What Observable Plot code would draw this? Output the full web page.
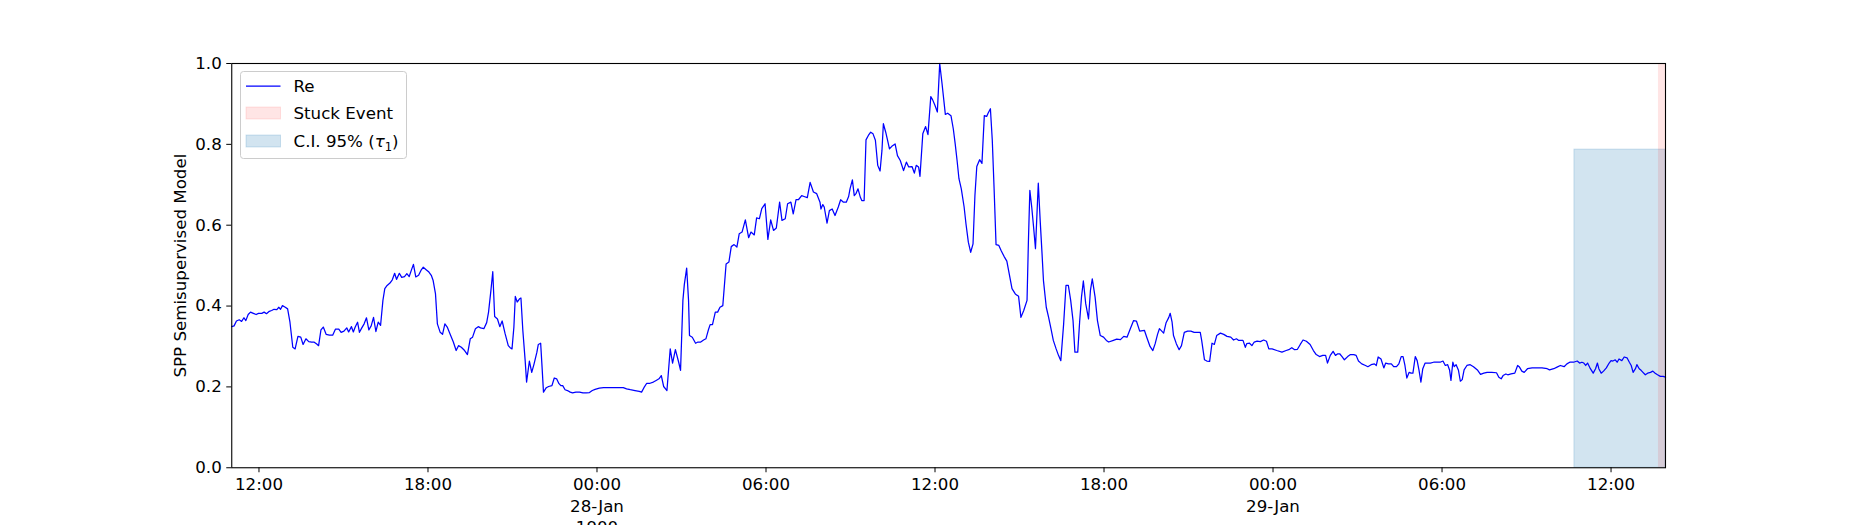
<!DOCTYPE html>
<html><head><meta charset="utf-8">
<script src="https://cdn.jsdelivr.net/npm/d3@7"></script>
<script src="https://cdn.jsdelivr.net/npm/@observablehq/plot@0.6"></script>
<style>
html,body{margin:0;padding:0;background:#fff;overflow:hidden}
</style></head><body><div id="chart"></div>
<script>
// ---- data (minutes since 27-Jan-1900 00:00, model output) ----
const seriesName = "Re";
const yLabel = "SPP Semisupervised Model";
const minutes = [
662,667,672,678,683,688,692,697,702,708,714,719,726,731,736,742,747,752,758,762,766,770,776,781,786,792,797,803,809,814,820,826,832,837,843,847,852,857,863,870,877,883,890,895,901,907,911,917,921,925,930,934,939,944,949,954,959,964,969,974,979,984,988,993,999,1004,1009,1013,1019,1024,1030,1035,1040,1045,1049,1054,1060,1065,1070,1076,1082,1087,1091,1096,1100,1106,1111,1116,1121,1127,1134,1140,1145,1151,1158,1164,1170,1175,1181,1187,1192,1199,1205,1209,1214,1218,1222,1228,1233,1238,1244,1251,1255,
1259,1263,1266,1270,1275,1278,1282,1287,1290,1296,1301,1306,1312,1315,1320,1323,1326,1332,1337,1344,1349,1354,1359,1363,1367,1372,1377,1383,1388,1395,1403,1410,1417,1424,1430,1436,1445,1454,1468,1482,1496,1503,1511,1521,1530,1535,1540,1546,1553,1560,1566,1572,1577,1582,1589,1596,1601,1607,1614,1618,1623,1626,1631,1635,1637,1643,1650,1655,1661,1667,1672,1677,1681,1686,1692,1697,1702,1708,1715,1721,1726,1732,1738,1743,1749,1756,1763,1768,1775,1780,1786,1791,1798,1804,1810,1816,1822,1829,1834,1841,1846,1853,1858,1864,1869,1876,1881,1888,1894,1901,1908,1915,
1917,1921,1924,1930,1935,1941,1947,1954,1959,1965,1971,1976,1979,1984,1988,1992,1996,2001,2004,2009,2013,2018,2023,2028,2033,2038,2043,2047,2050,2055,2059,2063,2068,2075,2080,2086,2093,2099,2104,2111,2116,2120,2125,2128,2134,2140,2145,2151,2155,2160,2165,2170,2175,2182,2187,2194,2199,2203,2207,2211,2216,2222,2226,2231,2236,2241,2245,2249,2255,2260,2265,2270,2273,2278,2282,2286,2290,2296,2301,2307,2313,2318,2324,2331,2338,2343,2349,2356,2359,2362,2366,2370,2374,2380,2384,2388,2391,2397,2402,2407,2412,2418,2423,2428,2434,2439,2444,2449,2454,2458,2464,2468,2472,2476,2481,2487,2491,2495,2501,2506,2512,2519,2525,2530,2540,2547,2555,
2562,2569,2576,2583,2589,2596,2606,2611,2618,2624,2629,2634,2638,2647,2652,2658,2661,2665,2668,2674,2680,2685,2691,2698,2705,2712,2725,2728,2734,2739,2745,2750,2755,2760,2768,2775,2782,2790,2796,2802,2807,2816,2821,2824,2830,2835,2840,2846,2853,2860,2866,2871,2878,2888,2899,2908,2915,2920,2926,2932,2938,2944,2951,2959,2966,2972,2979,2986,2992,2996,3002,3008,3013,3018,3022,3027,3032,3039,3045,3052,3057,3062,3069,3077,3082,3089,3096,3100,3104,3110,3116,3120,3126,3132,3137,3143,3148,3153,3157,3161,3165,3170,3174,3178,3183,3187,3191,3195,3199,3204,3215,
3222,3236,3242,3247,3252,3256,3259,3263,3266,3270,3275,3279,3283,3287,3293,3300,3307,3316,3322,3329,3336,3346,3356,3361,3366,3370,3376,3380,3387,3395,3401,3405,3410,3415,3422,3432,3442,3453,3464,3469,3478,3485,3492,3500,3506,3512,3520,3528,3533,3538,3542,3546,3550,3556,3562,3567,3571,3574,3579,3584,3590,3596,3600,3604,3609,3613,3617,3623,3628,3634,3639,3643,3647,3652,3655,3660,3664,3668,3673,3678,3684,3689,3694,3699,3705,3711,3716
];
const values = [
.349,.351,.363,.366,.362,.371,.364,.379,.385,.382,.379,.382,.382,.385,.381,.387,.389,.392,.391,.397,.392,.401,.397,.393,.360,.298,.294,.325,.323,.305,.319,.312,.311,.311,.306,.302,.341,.348,.330,.328,.328,.343,.343,.335,.338,.346,.336,.349,.336,.348,.360,.335,.346,.356,.371,.341,.351,.372,.337,.360,.352,.414,.443,.451,.457,.465,.481,.466,.481,.471,.473,.480,.473,.490,.503,.472,.476,.488,.496,.490,.484,.476,.463,.430,.356,.335,.330,.356,.348,.331,.311,.290,.302,.298,.290,.280,.319,.323,.344,.349,.346,.344,.359,.385,.438,.485,.374,.368,.349,.363,.333,.302,.297,
.294,.348,.424,.410,.418,.420,.340,.265,.212,.264,.236,.257,.286,.305,.308,.249,.187,.198,.201,.203,.222,.220,.208,.203,.203,.193,.191,.187,.185,.187,.187,.185,.185,.186,.191,.194,.197,.198,.198,.198,.198,.195,.193,.191,.189,.187,.198,.209,.209,.212,.216,.220,.228,.201,.191,.294,.259,.292,.261,.241,.414,.453,.494,.414,.327,.323,.308,.311,.311,.316,.319,.340,.354,.354,.385,.385,.397,.401,.504,.509,.547,.552,.546,.579,.583,.613,.569,.583,.576,.618,.616,.641,.653,.565,.613,.587,.593,.657,.612,.616,.653,.657,.628,.663,.663,.673,.671,.668,.706,.682,.678,.657,
.640,.651,.645,.605,.636,.640,.624,.645,.663,.657,.657,.671,.690,.712,.673,.679,.690,.669,.661,.661,.811,.822,.830,.826,.810,.748,.734,.785,.851,.830,.810,.789,.795,.801,.772,.760,.735,.756,.744,.745,.729,.748,.744,.721,.826,.844,.824,.918,.910,.896,.880,1.0,.950,.874,.877,.871,.838,.801,.760,.715,.690,.645,.603,.558,.533,.554,.673,.745,.762,.753,.871,.869,.877,.888,.810,.686,.552,.550,.537,.523,.511,.480,.443,.430,.424,.372,.389,.414,.562,.686,.645,.595,.542,.704,.612,.529,.463,.397,.372,.344,.315,.294,.278,.265,.356,.451,.451,.414,.364,.286,.286,.360,.422,.462,.406,.368,.438,.467,.422,.364,.327,.323,.315,.311,.315,.318,.317,
.325,.323,.344,.364,.363,.338,.340,.323,.300,.290,.307,.330,.344,.333,.358,.372,.382,.360,.327,.307,.292,.302,.335,.338,.338,.335,.335,.315,.267,.264,.263,.308,.305,.327,.333,.330,.325,.323,.316,.319,.315,.315,.298,.307,.308,.302,.311,.313,.312,.316,.313,.294,.294,.290,.286,.290,.293,.297,.292,.293,.305,.316,.313,.305,.290,.280,.275,.278,.278,.259,.278,.288,.278,.282,.282,.275,.267,.275,.280,.280,.278,.264,.257,.253,.250,.255,.257,.253,.274,.269,.247,.259,.257,.257,.250,.250,.257,.275,.275,.253,.222,.236,.234,.234,.275,.265,.241,.212,.245,.259,.259,
.261,.261,.264,.253,.255,.242,.216,.261,.250,.255,.241,.214,.218,.242,.253,.255,.250,.241,.231,.234,.236,.236,.235,.224,.220,.228,.232,.230,.232,.234,.253,.249,.239,.236,.245,.247,.247,.247,.245,.242,.245,.249,.253,.250,.257,.261,.261,.264,.259,.261,.259,.253,.259,.245,.234,.245,.259,.245,.234,.239,.247,.259,.265,.264,.267,.261,.269,.265,.274,.272,.261,.253,.236,.245,.255,.245,.241,.236,.230,.234,.236,.239,.234,.230,.226,.226,.224
];
// confidence interval and stuck event spans (minutes since 27-Jan-1900 00:00)
const ciStart = 3522, ciEnd = 3716, ciUpper = 0.787;
const stuckStart = 3701, stuckEnd = 3716;
const yTicks = [0, 0.2, 0.4, 0.6, 0.8, 1.0];
const legendLabels = ["Re", "Stuck Event", "C.I. 95% ("];

// ---- build ----
const t0 = Date.UTC(1900, 0, 27);
const toDate = m => new Date(t0 + m * 60000);
const data = minutes.map((m, i) => ({t: toDate(m), v: values[i]}));
const xDomain = [data[0].t, data[data.length - 1].t];
const xTicks = d3.utcHour.every(6).range(xDomain[0], xDomain[1]);
const tickLabels = new Map();
let firstMidnight = true;
for (const d of xTicks) {
  const hm = d3.utcFormat("%H:%M")(d);
  if (d.getUTCHours() === 0) {
    tickLabels.set(+d, hm + "\n" + d3.utcFormat("%d-%b")(d) + (firstMidnight ? "\n" + d.getUTCFullYear() : ""));
    firstMidnight = false;
  } else tickLabels.set(+d, hm);
}

const FS = "16.67px";
const plot = Plot.plot({
  width: 1850, height: 525,
  marginLeft: 231.25, marginRight: 185, marginTop: 63, marginBottom: 57.75,
  style: {fontFamily: "DejaVu Sans", fontSize: FS, background: "white", color: "black"},
  x: {type: "utc", domain: xDomain},
  y: {domain: [0, 1]},
  marks: [
    Plot.rect([{x1: toDate(ciStart), x2: toDate(ciEnd), y1: 0, y2: ciUpper}], {x1: "x1", x2: "x2", y1: "y1", y2: "y2", fill: "#1f77b4", fillOpacity: 0.2, stroke: "#1f77b4", strokeOpacity: 0.2}),
    Plot.rect([{x1: toDate(stuckStart), x2: toDate(stuckEnd)}], {x1: "x1", x2: "x2", fill: "red", fillOpacity: 0.1}),
    Plot.line(data, {x: "t", y: "v", stroke: "#0000ff", strokeWidth: 1.25}),
    Plot.frame({stroke: "black", strokeWidth: 1.1}),
    Plot.axisX({ticks: xTicks, tickFormat: d => tickLabels.get(+d), tickSize: 5, tickPadding: 2, lineHeight: 1.3, label: null, fontSize: FS}),
    Plot.axisY({ticks: yTicks, tickFormat: d3.format(".1f"), tickSize: 5, tickPadding: 5, fontSize: FS,
      label: yLabel, labelAnchor: "center", labelArrow: "none", labelOffset: 58})
  ]
});

// ---- legend inside the axes (upper left) ----
const svg = d3.select(plot);
const lg = svg.append("g").attr("font-family", "DejaVu Sans").attr("font-size", FS).attr("fill", "black").attr("text-anchor", "start");
lg.append("rect").attr("x", 240.5).attr("y", 71.5).attr("width", 166).attr("height", 87).attr("rx", 3)
  .attr("fill", "white").attr("fill-opacity", 0.8).attr("stroke", "#cccccc");
lg.append("line").attr("x1", 246).attr("x2", 280.5).attr("y1", 86).attr("y2", 86).attr("stroke", "#0000ff").attr("stroke-width", 1.25);
lg.append("text").attr("x", 293.5).attr("y", 86).attr("dy", "0.35em").text(legendLabels[0]);
lg.append("rect").attr("x", 246).attr("y", 107).attr("width", 34.5).attr("height", 12)
  .attr("fill", "red").attr("fill-opacity", 0.1).attr("stroke", "red").attr("stroke-opacity", 0.1);
lg.append("text").attr("x", 293.5).attr("y", 113).attr("dy", "0.35em").text(legendLabels[1]);
lg.append("rect").attr("x", 246).attr("y", 135).attr("width", 34.5).attr("height", 12)
  .attr("fill", "#1f77b4").attr("fill-opacity", 0.2).attr("stroke", "#1f77b4").attr("stroke-opacity", 0.2);
const ci = lg.append("text").attr("x", 293.5).attr("y", 141).attr("dy", "0.35em");
ci.append("tspan").text(legendLabels[2]);
ci.append("tspan").attr("font-style", "italic").text("τ");
ci.append("tspan").attr("font-size", "11.5px").attr("dy", "4").text("1");
ci.append("tspan").attr("dy", "-4").text(")");

document.getElementById("chart").appendChild(plot);
</script></body></html>
